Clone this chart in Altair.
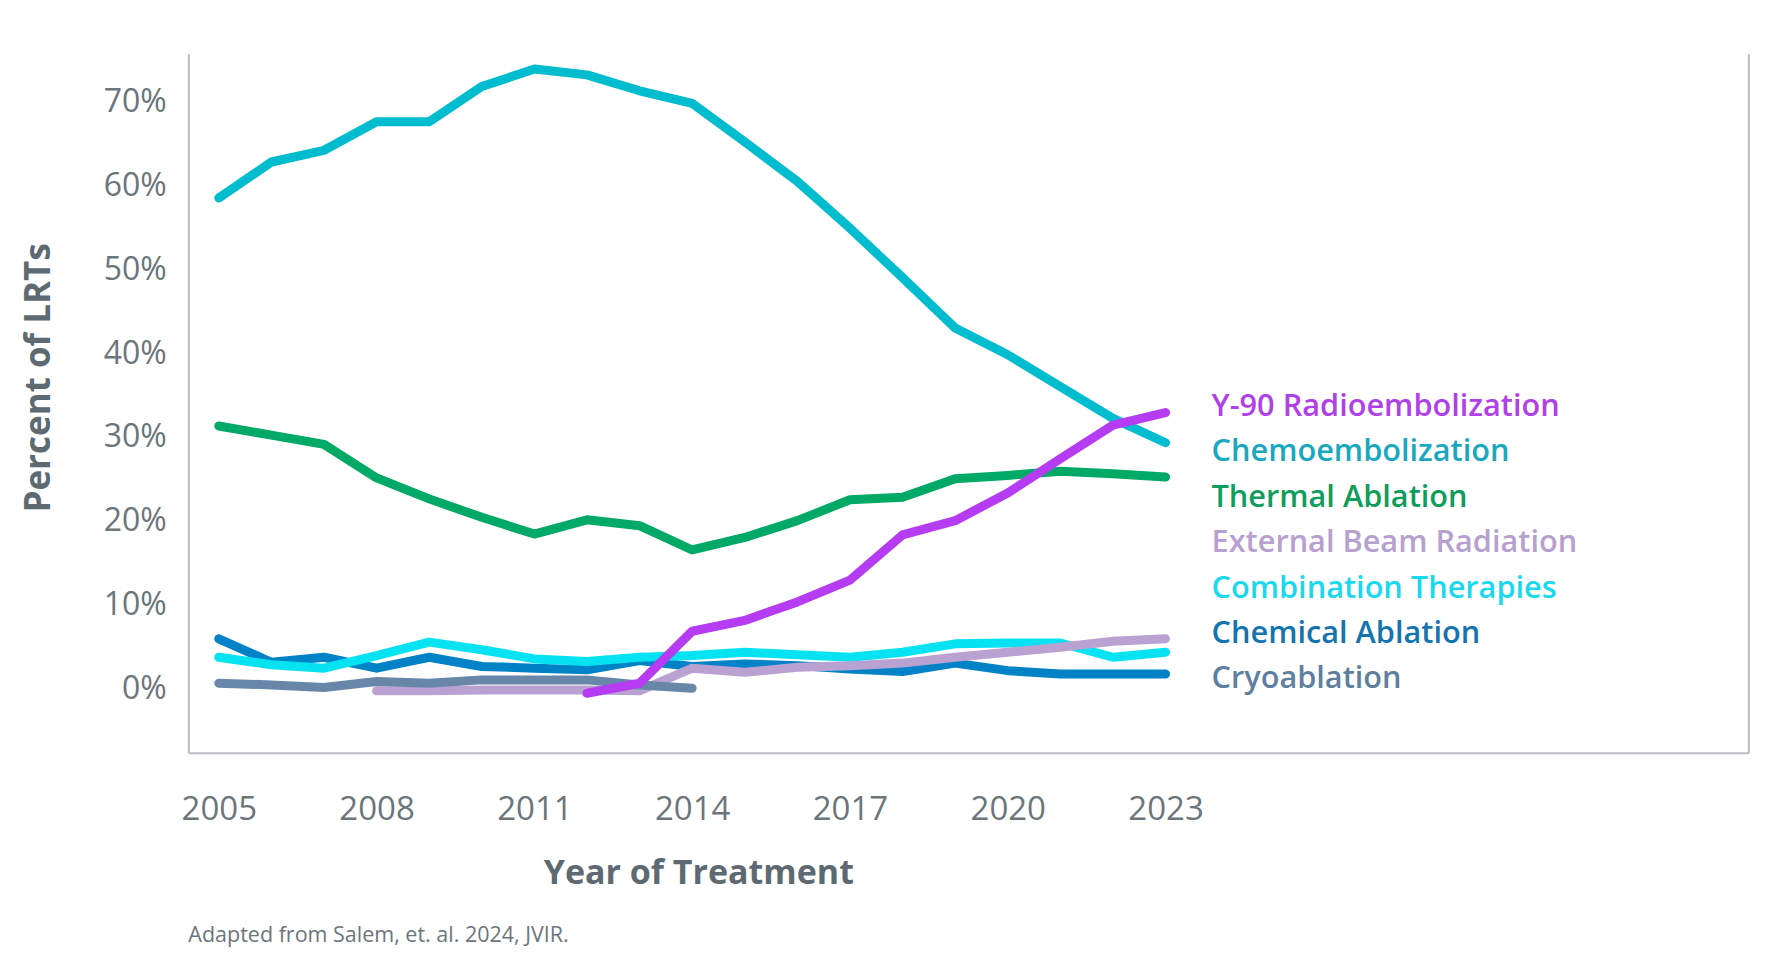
import altair as alt
import pandas as pd

# Share of locoregional therapies (LRTs) by year, in percent
years = list(range(2005, 2024))

chemoembolization = [58.5, 62.8, 64.2, 67.6, 67.6, 71.8, 73.9, 73.2, 71.3, 69.8,
                     65.2, 60.5, 54.9, 49.0, 43.0, 39.8, 36.0, 32.2, 29.3]
thermal_ablation = [31.3, 30.2, 29.1, 25.1, 22.6, 20.4, 18.4, 20.1, 19.4, 16.5,
                    18.0, 20.0, 22.5, 22.8, 25.0, 25.4, 25.9, 25.6, 25.2]
chemical_ablation = [5.9, 3.1, 3.7, 2.4, 3.7, 2.6, 2.4, 2.2, 3.3, 2.6,
                     2.9, 2.7, 2.3, 2.0, 3.0, 2.1, 1.7, 1.7, 1.7]
combination_therapies = [3.7, 2.8, 2.4, 3.9, 5.5, 4.6, 3.5, 3.2, 3.7, 3.9,
                         4.3, 4.0, 3.7, 4.3, 5.3, 5.4, 5.4, 3.7, 4.3]
# series that cover only part of the period
y90_years = list(range(2012, 2024))
y90_radioembolization = [-0.6, 0.6, 6.8, 8.1, 10.3, 12.9, 18.3, 20.0, 23.3, 27.4, 31.4, 32.9]
ebr_years = list(range(2008, 2024))
external_beam_radiation = [-0.3, -0.3, -0.2, -0.2, -0.2, -0.3, 2.4, 1.9, 2.5, 2.7,
                           3.0, 3.7, 4.3, 4.9, 5.6, 5.9]
cryo_years = list(range(2005, 2015))
cryoablation = [0.6, 0.4, 0.1, 0.8, 0.6, 1.0, 1.0, 1.0, 0.4, 0.0]

x_ticks = [2005, 2008, 2011, 2014, 2017, 2020, 2023]
y_ticks = [0, 10, 20, 30, 40, 50, 60, 70]

# label order, top to bottom
legend_order = ["Y-90 Radioembolization", "Chemoembolization", "Thermal Ablation",
                "External Beam Radiation", "Combination Therapies", "Chemical Ablation",
                "Cryoablation"]
line_colors = ["#b63cf4", "#00bccf", "#00aa66", "#b9a2d1", "#05e3f3", "#0082c6", "#6887a8"]
text_colors = ["#b040e8", "#19a8c0", "#0f9d5c", "#b7a0cf", "#1ad8ee", "#1474b0", "#5f7f9f"]

# drawing order, back to front
series = [
    ("Chemical Ablation", years, chemical_ablation),
    ("Combination Therapies", years, combination_therapies),
    ("External Beam Radiation", ebr_years, external_beam_radiation),
    ("Cryoablation", cryo_years, cryoablation),
    ("Thermal Ablation", years, thermal_ablation),
    ("Chemoembolization", years, chemoembolization),
    ("Y-90 Radioembolization", y90_years, y90_radioembolization),
]
rows = []
for name, yrs, vals in series:
    for yr, v in zip(yrs, vals):
        rows.append({"series": name, "year": yr, "pct": v})
df = pd.DataFrame(rows)
labels_df = pd.DataFrame({"series": legend_order})

FONT = "Open Sans"
AXIS_GRAY = "#b9bcc0"
LABEL_GRAY = "#6b757c"
TITLE_GRAY = "#5e6a71"

x_scale = alt.Scale(domain=[2004.42, 2034.08], nice=False, zero=False)
y_scale = alt.Scale(domain=[-7.69, 75.76], nice=False, zero=False)

lines = alt.Chart(df).mark_line(
    strokeWidth=9, strokeCap="round", strokeJoin="round"
).encode(
    x=alt.X("year:Q", scale=x_scale, axis=alt.Axis(
        values=x_ticks, format="d", title="Year of Treatment",
        ticks=False, tickSize=0, grid=False,
        domainColor=AXIS_GRAY, domainWidth=2,
        labelFont=FONT, labelFontSize=33, labelColor=LABEL_GRAY,
        labelBaseline="middle", labelPadding=57,
        titleFont=FONT, titleFontSize=34, titleFontWeight="bold", titleColor=TITLE_GRAY,
        titleX=510, titleY=121, titleBaseline="middle", titleAlign="center",
    )),
    y=alt.Y("pct:Q", scale=y_scale, axis=alt.Axis(
        values=y_ticks, labelExpr="datum.value + '%'", title="Percent of LRTs",
        ticks=False, tickSize=0, grid=False,
        domainColor=AXIS_GRAY, domainWidth=2,
        labelFont=FONT, labelFontSize=32, labelColor=LABEL_GRAY, labelPadding=22,
        titleFont=FONT, titleFontSize=35, titleFontWeight="bold", titleColor=TITLE_GRAY,
        titleX=-150, titleY=324, titleBaseline="middle", titleAlign="center",
    )),
    color=alt.Color("series:N", scale=alt.Scale(domain=legend_order, range=line_colors),
                    legend=None),
)

# invisible copy of the lines that carries the right-hand frame edge
frame = alt.Chart(df).mark_line(opacity=0).encode(
    x=alt.X("year:Q", scale=x_scale),
    y=alt.Y("pct:Q", scale=y_scale, axis=alt.Axis(
        orient="right", labels=False, ticks=False, tickSize=0, grid=False, title=None,
        domainColor=AXIS_GRAY, domainWidth=2,
    )),
    detail="series:N",
)

series_labels = alt.Chart(labels_df).mark_text(
    align="left", baseline="middle", dx=46, font=FONT, fontSize=30.7, fontWeight=600
).encode(
    x=alt.datum(2023),
    y=alt.Y("series:N", scale=alt.Scale(type="point", domain=legend_order,
                                        range=[353.5, 626], padding=0), axis=None),
    text="series:N",
    color=alt.Color("series:N", scale=alt.Scale(domain=legend_order, range=text_colors),
                    legend=None),
)

chart = alt.layer(lines, frame, series_labels).resolve_scale(
    y="independent", color="independent"
).properties(
    width=1560,
    height=699.3,
    autosize=alt.AutoSizeParams(type="none"),
    padding={"left": 188.3, "top": 53.4, "right": 32.7, "bottom": 224.3},
    background="white",
    title=alt.Title(
        "Adapted from Salem, et. al. 2024, JVIR.", orient="bottom", anchor="start",
        frame="group", font=FONT, fontSize=21.5, fontWeight="normal", color=LABEL_GRAY,
        offset=34,
    ),
).configure_view(stroke=None)

chart.save("out.html", embed_options={"renderer": "svg", "actions": False})
